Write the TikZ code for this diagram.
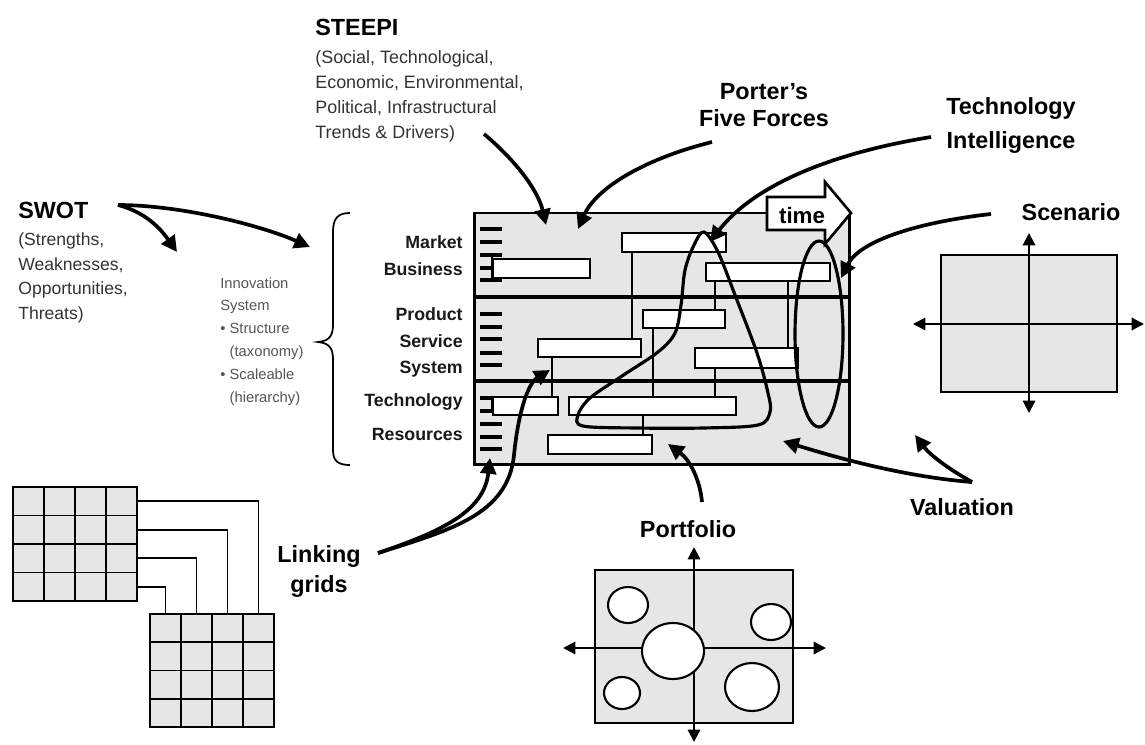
\documentclass[tikz,border=0pt]{standalone}
\usepackage{fontspec}
\setmainfont{Liberation Sans}
\usetikzlibrary{arrows.meta,calc}
\definecolor{boxgray}{HTML}{E6E6E6}
\definecolor{subgray}{HTML}{333333}
\definecolor{innogray}{HTML}{555555}
\tikzset{
  title/.style={font=\fontsize{13.3}{15.4}\selectfont\bfseries, text=black, inner sep=0pt, align=center},
  subtxt/.style={font=\fontsize{10}{14.2}\selectfont, text=subgray, inner sep=0pt, align=left},
  innotxt/.style={font=\fontsize{8.4}{13}\selectfont, text=innogray, inner sep=0pt, align=left},
  rowlabel/.style={font=\fontsize{10.1}{15.3}\selectfont\bfseries, text=black!90, inner sep=0pt, align=right, anchor=north east},
  section/.style={draw, fill=boxgray, line width=1.7pt, inner sep=0pt, outer sep=0pt, minimum width=7.52cm, minimum height=1.68cm, anchor=north west},
  bar/.style={draw, fill=white, line width=1.2pt, inner sep=0pt, outer sep=0pt, anchor=north west},
  link/.style={line width=0.9pt},
  tick/.style={line width=2pt},
  arr/.style={line width=2.1pt, -{Triangle[length=9pt,width=9pt]}},
  axisarr/.style={line width=1.2pt, {Triangle[length=7pt,width=7pt]}-{Triangle[length=7pt,width=7pt]}},
  chartbox/.style={draw, fill=boxgray, line width=1.2pt, inner sep=0pt, outer sep=0pt, anchor=north west},
  gridbox/.style={draw, fill=boxgray, line width=1.2pt, inner sep=0pt, outer sep=0pt, anchor=north west},
  gridline/.style={line width=1.1pt},
  circ/.style={draw, fill=white, line width=1.2pt},
  loopline/.style={line width=1.8pt}
}
\begin{document}
\begin{tikzpicture}[x=0.02cm,y=-0.02cm]
\useasboundingbox (0,0) rectangle (1145,744);
\fill[white] (0,0) rectangle (1145,744);

% ---------- roadmap ----------
\node[section] (s1) at (474,213) {};
\node[section] (s2) at (474,297) {};
\node[section] (s3) at (474,381) {};
\foreach \y in {229,242,255,268,280,314,327,339,353,365,398,411,424,437,449}
  \draw[tick] (480,\y) -- (502,\y);
\draw[link] (492,255) -- (492,280);
\draw[link] (492,398) -- (492,411);

\node[bar, minimum width=2.08cm, minimum height=0.38cm] (A) at (622,233) {};
\node[bar, minimum width=1.94cm, minimum height=0.38cm] (B) at (493,259) {};
\node[bar, minimum width=2.48cm, minimum height=0.36cm] (C) at (706,263) {};
\node[bar, minimum width=1.64cm, minimum height=0.36cm] (D) at (643,310) {};
\node[bar, minimum width=2.06cm, minimum height=0.36cm] (E) at (538,339) {};
\node[bar, minimum width=2.06cm, minimum height=0.40cm] (F) at (695,348) {};
\node[bar, minimum width=1.30cm, minimum height=0.36cm] (G) at (493,397) {};
\node[bar, minimum width=3.34cm, minimum height=0.36cm] (H) at (569,397) {};
\node[bar, minimum width=2.08cm, minimum height=0.38cm] (I) at (548,435) {};

\draw[link] ($(A.south west)+(10,0)$) coordinate (a1) -- (a1 |- E.north);
\draw[link] ($(C.south west)+(9,0)$) coordinate (c1) -- (c1 |- D.north);
\draw[link] ($(C.south west)+(82,0)$) coordinate (c2) -- (c2 |- F.north);
\draw[link] ($(D.south west)+(10,0)$) coordinate (d1) -- (d1 |- H.north);
\draw[link] ($(E.south west)+(14,0)$) coordinate (e1) -- (e1 |- G.north);
\draw[link] ($(F.south west)+(20,0)$) coordinate (f1) -- (f1 |- H.north);
\draw[link] ($(H.south west)+(74,0)$) coordinate (h1) -- (h1 |- I.north);

% time arrow
\draw[line width=1.5pt, fill=white, line join=miter]
  (767,197) -- (825,197) -- (825,182) -- (851,213) -- (825,244) -- (825,230) -- (767,230) -- cycle;
\node[font=\fontsize{12.7}{15}\selectfont\bfseries, inner sep=0pt, anchor=base] (time) at (802,223) {time};

% technology intelligence loop
\draw[loopline] plot[smooth cycle, tension=0.55] coordinates {
  (704,232) (718,252) (735,295) (757,353) (768,393) (770,412) (758,425)
  (703,428) (637,428) (583,426) (578,415) (590,398) (622,376) (658,352)
  (675,333) (681,305) (685,270) (694,245)};
% scenario ellipse
\draw[loopline] (819,334) ellipse [x radius=0.48cm, y radius=1.86cm];

% brace
\draw[line width=1pt] (350,213) .. controls (338,213) and (333,218) .. (333,232) -- (333,325)
  .. controls (333,337) and (328,341) .. (318,342)
  .. controls (328,343) and (333,347) .. (333,359) -- (333,450)
  .. controls (333,461) and (338,465) .. (350,465);

% row labels
\node[rowlabel] (mb) at (463,235) {Market\\Business};
\node[rowlabel] (pss) at (463,307) {Product\\Service\\System};
\node[rowlabel, font=\fontsize{10.1}{19.5}\selectfont\bfseries] (tr) at (463,393) {Technology\\Resources};

% ---------- texts ----------
\node[title, anchor=base west] (swot) at (18,218) {SWOT};
\node[subtxt, anchor=north west] (swotsub) at (18,232) {(Strengths,\\Weaknesses,\\Opportunities,\\Threats)};
\node[title, anchor=base west] (steepi) at (315,35) {STEEPI};
\node[subtxt, font=\fontsize{10.2}{14.2}\selectfont, anchor=north west] (steepisub) at (315,50)
  {(Social, Technological,\\Economic, Environmental,\\Political, Infrastructural\\Trends \& Drivers)};
\node[title, anchor=north] (porter) at (764,83) {Porter’s\\Five Forces};
\node[title, font=\fontsize{13.3}{19.3}\selectfont\bfseries, anchor=north] (ti) at (1011,97) {Technology\\Intelligence};
\node[title, anchor=base] (scen) at (1071,220) {Scenario};
\node[title, anchor=base] (val) at (962,515) {Valuation};
\node[title, anchor=base] (port) at (688,537) {Portfolio};
\node[title, font=\fontsize{13.3}{17}\selectfont\bfseries, anchor=north] (lk) at (319,545) {Linking\\grids};
\node[innotxt, anchor=north west] (inno) at (220,277)
  {Innovation\\System\\• Structure\\\hspace*{1.2ex}(taxonomy)\\• Scaleable\\\hspace*{1.2ex}(hierarchy)};

% ---------- arrows ----------
\coordinate (steepiS) at (484,134); \coordinate (steepiT) at (546,225);
\coordinate (porterS) at (712,142); \coordinate (porterT) at (578,229);
\coordinate (tiS) at (931,137);     \coordinate (tiT) at (710,242);
\coordinate (scS) at (991,214);     \coordinate (scT) at (841,278);
\coordinate (swS) at (118,205);     \coordinate (swT1) at (177,252); \coordinate (swT2) at (310,247);
\coordinate (lkS) at (378,553);     \coordinate (lkT1) at (490,458); \coordinate (lkT2) at (550,370);
\coordinate (pfS) at (702,502);     \coordinate (pfT) at (668,444);
\coordinate (vaS) at (972,482);     \coordinate (vaT1) at (783,441); \coordinate (vaT2) at (915,435);

\draw[arr] (steepiS) .. controls (515,160) and (538,190) .. (steepiT);
\draw[arr] (porterS) .. controls (640,160) and (595,190) .. (porterT);
\draw[arr] (tiS) .. controls (820,155) and (750,190) .. (tiT);
\draw[arr] (scS) .. controls (920,222) and (860,240) .. (scT);
\draw[arr] (swS) .. controls (145,212) and (160,228) .. (swT1);
\draw[arr] (swS) .. controls (180,205) and (260,225) .. (swT2);
\draw[arr] (lkS) .. controls (440,532) and (484,512) .. (lkT1);
\draw[arr] (lkS) .. controls (450,530) and (508,515) .. (514,455) .. controls (519,405) and (530,382) .. (lkT2);
\draw[arr] (pfS) .. controls (700,480) and (690,460) .. (pfT);
\draw[arr] (vaS) .. controls (920,478) and (860,465) .. (vaT1);
\draw[arr] (vaS) .. controls (950,470) and (930,455) .. (vaT2);

% ---------- linking grids ----------
\node[gridbox, minimum width=2.48cm, minimum height=2.28cm] (g1) at (13,487) {};
\node[gridbox, minimum width=2.48cm, minimum height=2.26cm] (g2) at (150,614) {};
\foreach \i in {1,2,3} {
  \draw[gridline] ($(g1.north west)+(31*\i,0)$) -- ($(g1.south west)+(31*\i,0)$);
  \draw[gridline] ($(g1.north west)+(0,28.5*\i)$) -- ($(g1.north east)+(0,28.5*\i)$);
  \draw[gridline] ($(g2.north west)+(31*\i,0)$) -- ($(g2.south west)+(31*\i,0)$);
  \draw[gridline] ($(g2.north west)+(0,28.25*\i)$) -- ($(g2.north east)+(0,28.25*\i)$);
}
\foreach \r/\c in {0/3,1/2,2/1,3/0}
  \draw[link] ($(g1.north east)+(0,14.25+28.5*\r)$) -| ($(g2.north west)+(15.5+31*\c,0)$);

% ---------- portfolio ----------
\node[chartbox, minimum width=3.96cm, minimum height=3.06cm] (pf) at (595,570) {};
\draw[axisarr] (563,648) -- (826,648);
\draw[axisarr] (694,547) -- (694,742);
\draw[circ] (628,605) ellipse [x radius=0.40cm, y radius=0.36cm];
\draw[circ] (771,622) ellipse [x radius=0.40cm, y radius=0.36cm];
\draw[circ] (673,651) ellipse [x radius=0.62cm, y radius=0.56cm];
\draw[circ] (622,693) ellipse [x radius=0.36cm, y radius=0.32cm];
\draw[circ] (752,687) ellipse [x radius=0.54cm, y radius=0.48cm];

% ---------- scenario ----------
\node[chartbox, minimum width=3.52cm, minimum height=2.74cm] (sc) at (941,255) {};
\draw[axisarr] (913,324) -- (1144,324);
\draw[axisarr] (1029,233) -- (1029,413);
\end{tikzpicture}
\end{document}
